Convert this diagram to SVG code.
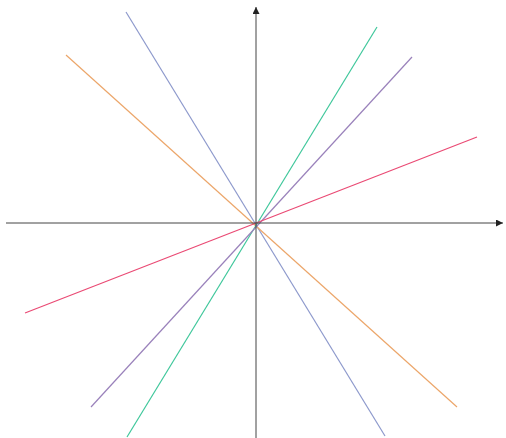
<svg xmlns="http://www.w3.org/2000/svg" width="506" height="438" viewBox="0 0 506 438">
<defs>
<marker id="ah" viewBox="0 0 10 10" refX="10" refY="5" markerWidth="7" markerHeight="7" markerUnits="userSpaceOnUse" orient="auto">
<path d="M0,0 L10,5 L0,10 z" fill="#222"/>
</marker>
<style>
.ax{stroke:#444;stroke-width:1;fill:none}
.ln{stroke-width:1.2;fill:none}
</style>
</defs>
<rect width="506" height="438" fill="#fff"/>
<g id="connectors">
<line class="ln" x1="126" y1="12" x2="385" y2="436" stroke="#8d99cc"/>
<line class="ln" x1="66" y1="55" x2="457" y2="407" stroke="#eca66a"/>
<line class="ln" x1="377" y1="27" x2="127" y2="437" stroke="#3fc79b"/>
<line class="ln" x1="412" y1="57" x2="91" y2="407" stroke="#9a82bb"/>
<line class="ln" x1="477" y1="137" x2="25" y2="313" stroke="#ea4a74"/>
<line class="ax" x1="6" y1="223" x2="503" y2="223" marker-end="url(#ah)"/>
<line class="ax" x1="256" y1="438" x2="256" y2="7" marker-end="url(#ah)"/>
</g>
</svg>
